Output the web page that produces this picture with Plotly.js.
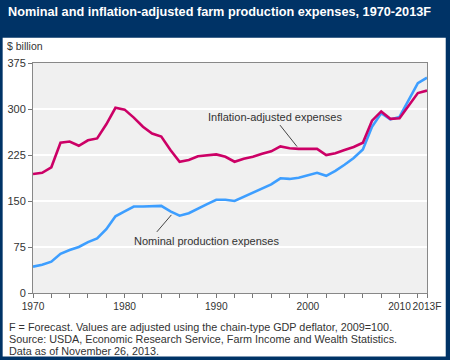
<!DOCTYPE html>
<html>
<head>
<meta charset="utf-8">
<script src="https://cdn.plot.ly/plotly-3.0.1.min.js"></script>
<style>html,body{margin:0;padding:0;background:#003366;}#chart{width:450px;height:360px;}</style>
</head>
<body>
<div id="chart"></div>
<script>
const years = [1970,1971,1972,1973,1974,1975,1976,1977,1978,1979,1980,1981,1982,1983,1984,1985,1986,1987,1988,1989,1990,1991,1992,1993,1994,1995,1996,1997,1998,1999,2000,2001,2002,2003,2004,2005,2006,2007,2008,2009,2010,2011,2012,2013];
const inflationAdjusted = [194,196,205,245,247,240,249,252,275,302,299,286,271,260,255,233,214,217,223,224,226,222,214,219,222,227,231,239,236,235,235,235,225,228,233,238,245,281,296,284,285,306,326,330];
const nominal = [43,46,51,64,70,75,83,89,104,125,133,141,141,141,142,133,126,130,138,145,152,152,150,157,164,171,177,187,186,188,192,196,191,199,209,220,234,271,293,283,287,314,342,351];
const title = "Nominal and inflation-adjusted farm production expenses, 1970-2013F";
const yTicks = [0,75,150,225,300,375];
const xTickVals = [1970,1972,1974,1976,1978,1980,1982,1984,1986,1988,1990,1992,1994,1996,1998,2000,2002,2004,2006,2008,2010,2012,2013];
const xTickText = ["1970","","","","","1980","","","","","1990","","","","","2000","","","","","2010","","2013F"];
const unitLabel = "$ billion";
const footnotes = ["F = Forecast. Values are adjusted using the chain-type GDP deflator, 2009=100.",
  "Source: USDA, Economic Research Service, Farm Income and Wealth Statistics.",
  "Data as of November 26, 2013."];
const labelInfl = "Inflation-adjusted expenses";
const labelNom = "Nominal production expenses";

const W = 450, H = 360;
const L = 33.3, R = 426.8, T = 62.7, B = 293.3;
const pw = R - L, ph = B - T;
const px = x => (x - L) / pw;
const py = y => (B - y) / ph;
const font = "Liberation Sans, Arial, sans-serif";

const traces = [
  {x: years, y: nominal, type: 'scatter', mode: 'lines', line: {color: '#3d9eff', width: 2.6}, hoverinfo: 'skip'},
  {x: years, y: inflationAdjusted, type: 'scatter', mode: 'lines', line: {color: '#cc0066', width: 2.6}, hoverinfo: 'skip'}
];

const layout = {
  width: W, height: H,
  margin: {l: L, r: W - R, t: T, b: H - B, pad: 0},
  paper_bgcolor: '#003366',
  plot_bgcolor: '#f0f0f0',
  showlegend: false,
  font: {family: font, size: 11, color: '#333'},
  title: {text: '<b>' + title + '</b>', xref: 'container', yref: 'container', x: 8/W, xanchor: 'left', y: 1 - 12/H, yanchor: 'middle', font: {family: font, size: 12.7, color: '#ffffff'}},
  xaxis: {range: [1970, 2013], tickmode: 'array', tickvals: xTickVals, ticktext: xTickText, tickangle: 0, ticks: 'outside', ticklen: 4, tickcolor: '#777', showgrid: false, zeroline: false, showline: true, linecolor: '#888', linewidth: 1, mirror: true, tickfont: {size: 10.2, color: '#333'}, fixedrange: true},
  yaxis: {range: [0, 375], tickmode: 'array', tickvals: yTicks, ticks: 'outside', ticklen: 4, tickcolor: '#777', showgrid: true, gridcolor: '#ffffff', gridwidth: 1.2, zeroline: false, showline: true, linecolor: '#888', linewidth: 1, mirror: true, tickfont: {size: 11, color: '#333'}, fixedrange: true},
  shapes: [
    {type: 'rect', xref: 'paper', yref: 'paper', x0: px(3), x1: px(445.5), y0: py(357), y1: py(37.5), fillcolor: '#ffffff', line: {width: 0}, layer: 'below'},
    {type: 'rect', xref: 'paper', yref: 'paper', x0: 0, x1: 1, y0: 0, y1: 1, fillcolor: '#f0f0f0', line: {width: 0}, layer: 'below'},
    {type: 'line', xref: 'paper', yref: 'paper', x0: px(280), y0: py(125), x1: px(297), y1: py(146.5), line: {color: '#444', width: 1}},
    {type: 'line', xref: 'paper', yref: 'paper', x0: px(171.5), y0: py(215), x1: px(157), y1: py(232), line: {color: '#444', width: 1}}
  ],
  annotations: [
    {text: unitLabel, xref: 'paper', yref: 'paper', x: px(5), y: py(45.7), xanchor: 'left', yanchor: 'middle', showarrow: false, font: {size: 10.5, color: '#333'}},
    {text: labelInfl, xref: 'paper', yref: 'paper', x: px(275), y: py(116.7), xanchor: 'center', yanchor: 'middle', showarrow: false, font: {size: 11, color: '#333'}},
    {text: labelNom, xref: 'paper', yref: 'paper', x: px(206.7), y: py(240.7), xanchor: 'center', yanchor: 'middle', showarrow: false, font: {size: 11, color: '#333'}},
    {text: footnotes[0], xref: 'paper', yref: 'paper', x: px(7), y: py(327.8), xanchor: 'left', yanchor: 'middle', showarrow: false, font: {size: 10.8, color: '#333'}},
    {text: footnotes[1], xref: 'paper', yref: 'paper', x: px(7), y: py(339.6), xanchor: 'left', yanchor: 'middle', showarrow: false, font: {size: 10.8, color: '#333'}},
    {text: footnotes[2], xref: 'paper', yref: 'paper', x: px(7), y: py(351), xanchor: 'left', yanchor: 'middle', showarrow: false, font: {size: 10.8, color: '#333'}}
  ]
};

Plotly.newPlot('chart', traces, layout, {staticPlot: true, displayModeBar: false});
</script>
</body>
</html>
